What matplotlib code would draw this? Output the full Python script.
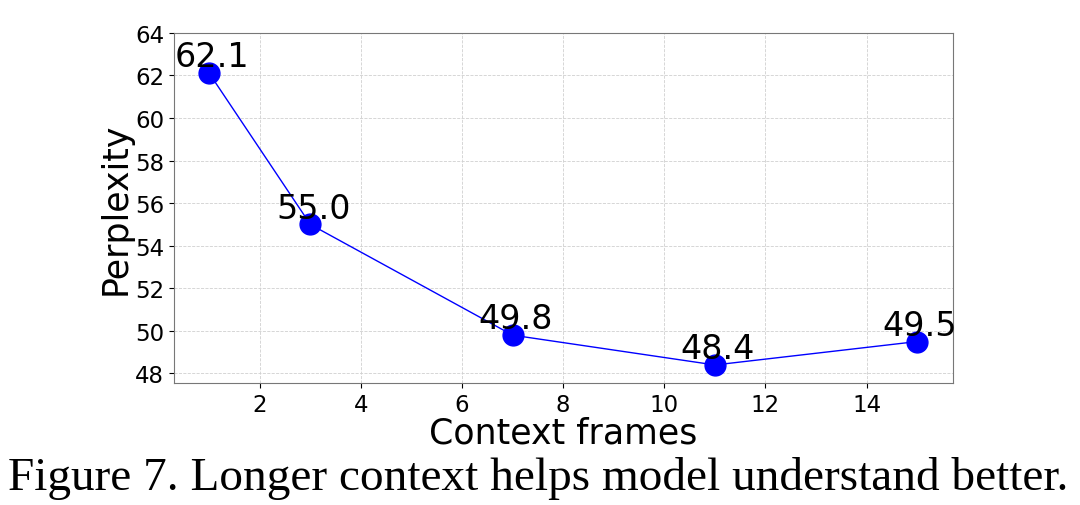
import matplotlib
matplotlib.use("Agg")
import matplotlib.pyplot as plt

context_frames = [1, 3, 7, 11, 15]
perplexity = [62.1, 55.0, 49.8, 48.4, 49.5]
y_ticks = [48, 50, 52, 54, 56, 58, 60, 62, 64]
x_ticks = [2, 4, 6, 8, 10, 12, 14]

fig = plt.figure(figsize=(10.8, 5.06), dpi=100)
ax = fig.add_axes([0.161, 0.241, 0.721, 0.692])

ax.plot(context_frames, perplexity, color="blue", linewidth=1.0, marker="o",
        markersize=15, markerfacecolor="blue", markeredgecolor="blue", zorder=3)
for x, y in zip(context_frames, perplexity):
    ax.annotate(f"{y:.1f}", (x, y), xytext=(2, 5), textcoords="offset points",
                ha="center", va="baseline", fontsize=24, zorder=4)

ax.set_ylim(47.55, 64)
ax.set_yticks(y_ticks)
ax.set_xticks(x_ticks)
ax.tick_params(labelsize=16.5)
ax.grid(True, linestyle="--", color="#d0d0d0", linewidth=0.6)
for s in ax.spines.values():
    s.set_color("#777777")
ax.set_xlabel("Context frames", fontsize=25, labelpad=0)
ax.set_ylabel("Perplexity", fontsize=25, labelpad=2)

fig.text(0.498, 0.055, "Figure 7. Longer context helps model understand better.",
         ha="center", va="center", fontsize=34, family="Liberation Serif")

fig.savefig("out.png", dpi=100)
